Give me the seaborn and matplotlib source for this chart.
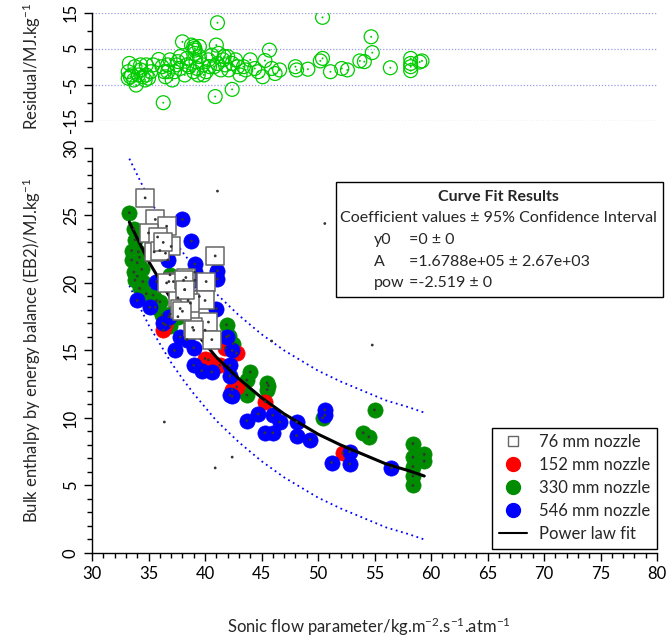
import matplotlib
matplotlib.use("Agg")
import matplotlib.pyplot as plt
import pandas as pd
import seaborn as sns
from matplotlib.lines import Line2D
from matplotlib.patches import Rectangle
from matplotlib.ticker import MultipleLocator

# %% Data

# 76 mm nozzle
x76 = [34.7, 35.6, 36.6, 35.0, 35.8, 35.5, 37.0, 36.0, 40.9, 38.3, 37.2, 40.1, 40.0,
       37.6, 38.5, 37.8, 38.7, 40.3, 38.9, 40.6, 36.6, 38.1, 38.0, 39.0, 36.3, 38.2]
y76 = [26.3, 24.7, 24.2, 23.7, 23.4, 22.3, 22.7, 22.4, 22.0, 20.4, 20.1, 20.1, 18.7,
       18.9, 18.7, 18.1, 18.5, 17.1, 16.7, 15.8, 20.0, 20.2, 17.9, 16.5, 23.0, 19.5]

# 152 mm nozzle
x152 = [36.3, 36.5, 40.0, 40.3, 41.3, 42.8, 42.8, 42.4, 45.3, 52.2, 41.8]
y152 = [16.5, 16.9, 14.4, 14.3, 13.9, 14.8, 12.3, 12.1, 11.2, 7.4, 15.2]

# 330 mm nozzle
x330 = [33.3, 33.7, 33.8, 33.5, 34.1, 33.5, 34.0, 33.7, 34.4, 33.8, 34.5, 34.2, 34.8,
        35.7, 36.9, 36.8, 35.4, 36.0, 35.6, 36.2, 36.9, 36.9, 41.9, 42.1, 42.5, 44.0,
        45.5, 45.5, 43.7, 43.7, 45.6, 50.4, 55.0, 54.0, 54.5, 58.4, 58.4, 58.4, 58.4,
        58.4, 59.4, 59.4, 34.2, 34.0, 37.6]
y330 = [25.2, 24.0, 23.2, 22.4, 22.3, 21.7, 21.5, 20.8, 21.0, 20.2, 20.1, 19.6, 19.2,
        18.7, 20.6, 20.1, 19.1, 18.6, 18.2, 17.6, 17.7, 16.8, 16.9, 16.1, 15.5, 13.4,
        12.6, 12.1, 12.8, 11.7, 12.4, 10.0, 10.6, 8.9, 8.6, 8.1, 7.1, 6.4, 5.7,
        5.0, 7.3, 6.8, 21.9, 20.5, 17.5]

# 546 mm nozzle
x546 = [38.0, 38.8, 39.1, 39.1, 39.1, 41.1, 41.1, 34.0, 35.1, 36.5, 35.7, 36.7, 41.0,
        41.9, 37.3, 37.8, 36.3, 36.8, 38.4, 39.0, 39.0, 39.7, 40.6, 42.2, 42.4, 42.2,
        42.2, 42.4, 44.7, 43.7, 46.0, 46.6, 46.0, 45.3, 48.1, 48.1, 49.3, 50.6, 50.6,
        51.2, 52.8, 52.8, 56.5, 39.5, 38.2, 40.0]
y546 = [24.7, 23.1, 21.4, 20.8, 20.2, 20.9, 20.3, 18.7, 18.2, 22.2, 20.1, 21.7, 18.1,
        16.0, 15.0, 16.0, 17.0, 17.5, 15.8, 15.2, 13.9, 13.5, 13.4, 13.1, 15.0, 13.9,
        11.7, 11.6, 10.3, 9.8, 10.2, 9.7, 8.9, 8.9, 9.7, 8.7, 8.4, 10.6, 10.2,
        6.7, 7.5, 6.6, 6.3, 19.0, 19.5, 16.5]

# stray small dots
x_dot = [41.1, 50.6, 54.8, 45.9, 36.4, 42.4, 40.9]
y_dot = [26.8, 24.4, 15.4, 15.7, 9.7, 7.1, 6.3]

# power law fit and its dotted bands
x_fit = [33.3, 34, 35, 36, 37, 38, 39, 40, 41, 42, 43, 44, 45, 46, 47, 48, 50, 52,
         54, 56, 58, 59.4]
y_fit = [24.5, 23.3, 21.6, 20.2, 18.8, 17.6, 16.5, 15.5, 14.5, 13.7, 12.9, 12.2,
         11.5, 10.9, 10.3, 9.8, 8.8, 8.0, 7.3, 6.6, 6.1, 5.7]
y_upper = [29.2, 28.0, 26.3, 24.9, 23.5, 22.3, 21.2, 20.2, 19.2, 18.4, 17.6, 16.9,
           16.2, 15.6, 15.0, 14.5, 13.5, 12.7, 12.0, 11.3, 10.8, 10.4]
y_lower = [19.8, 18.6, 16.9, 15.5, 14.1, 12.9, 11.8, 10.8, 9.8, 9.0, 8.2, 7.5,
           6.8, 6.2, 5.6, 5.1, 4.1, 3.3, 2.6, 1.9, 1.4, 1.0]

# residuals
x_res = [33.3, 33.8, 34.3, 34.8, 33.2, 33.5, 34.1, 34.5, 33.7, 33.2, 33.9, 34.7, 35.0,
         35.2, 34.3, 33.4, 35.9, 36.2, 36.4, 36.5, 36.7, 36.3, 37.1, 37.3, 37.5, 37.6,
         37.8, 38.0, 38.2, 38.4, 38.6, 38.8, 39.0, 39.1, 39.1, 39.1, 39.2, 39.3, 39.4,
         39.5, 39.8, 40.1, 40.3, 40.4, 40.6, 40.9, 41.0, 41.1, 41.1, 41.2, 41.4, 41.6,
         41.8, 42.0, 42.1, 42.4, 42.4, 42.7, 42.9, 43.1, 43.4, 43.6, 44.0, 44.4, 44.7,
         45.1, 45.3, 45.7, 45.9, 46.2, 46.6, 48.0, 48.1, 49.1, 50.2, 50.4, 50.4, 51.1,
         52.1, 52.6, 53.7, 54.1, 54.7, 54.8, 56.4, 58.2, 58.2, 58.2, 58.2, 59.2, 59.0,
         36.9, 39.5, 39.0, 38.4, 37.8, 36.7, 35.4, 34.8, 40.8, 39.9, 41.7]
y_res = [0.9, 0.0, 0.5, 0.5, -1.4, -2.3, -2.3, -2.8, -3.7, -3.2, -5.1, -3.7, -3.2,
         -1.4, -0.9, -2.8, 2.0, 0.0, -1.4, -2.8, 0.5, -10.0, -3.7, -1.4, 0.5, 1.4,
         -0.5, 6.9, -2.3, 2.3, 0.0, 6.0, -1.4, 5.1, 4.6, 3.7, 1.4, -0.5, -2.3,
         2.8, 0.5, -1.4, 1.9, 0.0, 3.2, -8.3, 6.0, 12.2, 0.9, 3.7, -0.9, 1.9,
         0.5, 2.8, -0.9, -6.3, 0.9, 1.9, 0.0, -2.3, 0.0, -0.9, 1.9, -0.5, -1.4,
         -2.8, 1.7, 4.6, -0.5, -1.9, -0.9, 0.0, -0.9, -0.7, 1.6, 2.3, 13.7, -1.4,
         -0.5, -0.9, 1.6, 1.4, 8.3, 3.9, -0.3, 2.3, 0.9, 0.0, -1.1, 1.6, 1.3,
         1.9, 5.6, 5.6, 0.5, 2.8, -1.4, 0.5, -2.3, 0.0, -2.3, 2.8]

fit_title = "Curve Fit Results"
fit_header = "Coefficient values \u00b1 95% Confidence Interval"
fit_names = ["y0", "A", "pow"]
fit_values = ["=0 \u00b1 0", "=1.6788e+05 \u00b1 2.67e+03", "=-2.519 \u00b1 0"]

# %% Style

sns.set_theme(style="ticks")
plt.rcParams["font.family"] = ["Lato", "DejaVu Sans"]
plt.rcParams["mathtext.fontset"] = "custom"
plt.rcParams["mathtext.rm"] = "Lato"
plt.rcParams["mathtext.default"] = "regular"
plt.rcParams["axes.unicode_minus"] = False
plt.rcParams["axes.edgecolor"] = "black"
plt.rcParams["xtick.color"] = "black"
plt.rcParams["ytick.color"] = "black"

RED, GREEN, BLUE = "#ff0000", "#008c00", "#0000ff"
FS = 12

fig = plt.figure(figsize=(6.67, 6.43), dpi=100)
ax_res = fig.add_axes([0.138, 0.8123, 0.847, 0.168])
ax = fig.add_axes([0.138, 0.140, 0.847, 0.630])

# %% Residual panel

res = pd.DataFrame({"x": x_res, "y": y_res})
for yg in [15, 5, -5, -15]:
    ax_res.axhline(yg, color="#9a9ae6", lw=0.9, ls=(0, (1, 1.5)), zorder=0)
sns.scatterplot(res, x="x", y="y", ax=ax_res, s=100, facecolor="none",
                edgecolor="#00cc00", linewidth=0.9, legend=False)
sns.scatterplot(res, x="x", y="y", ax=ax_res, s=2, color="#00cc00",
                edgecolor="none", legend=False)
ax_res.set(xlim=(30, 80), ylim=(-15, 15), xlabel="", xticks=[])
ax_res.set_ylabel(r"Residual/MJ.kg$^{-1}$", fontsize=FS)
ax_res.yaxis.set_label_coords(-0.087, 0.5)
ax_res.set_yticks([15, 5, -5, -15])
ax_res.yaxis.set_minor_locator(MultipleLocator(5))
for s in ["top", "right", "bottom"]:
    ax_res.spines[s].set_visible(False)

# %% Main panel

ax.plot(x_fit, y_upper, color=BLUE, ls=(0, (1, 2)), lw=1.3, zorder=1)
ax.plot(x_fit, y_lower, color=BLUE, ls=(0, (1, 2)), lw=1.3, zorder=1)

sets = [
    (x330, y330, GREEN),
    (x152, y152, RED),
    (x546, y546, BLUE),
]
for xs, ys, c in sets:
    sns.scatterplot(x=xs, y=ys, ax=ax, s=120, color=c, edgecolor=c,
                    linewidth=0.5, legend=False, zorder=2)

sns.lineplot(x=x_fit, y=y_fit, ax=ax, color="black", lw=2.2, zorder=3)

sns.scatterplot(x=x76, y=y76, ax=ax, marker="s", s=150, color="white",
                edgecolor="#666666", linewidth=1.1, legend=False, zorder=4)

all_x = x76 + x152 + x330 + x546 + x_dot
all_y = y76 + y152 + y330 + y546 + y_dot
sns.scatterplot(x=all_x, y=all_y, ax=ax, s=4, color="#333333",
                edgecolor="none", legend=False, zorder=5)

ax.set(xlim=(30, 80), ylim=(0, 30))
ax.xaxis.set_major_locator(MultipleLocator(5))
ax.xaxis.set_minor_locator(MultipleLocator(1))
ax.yaxis.set_major_locator(MultipleLocator(5))
ax.yaxis.set_minor_locator(MultipleLocator(1))
ax.set_xlabel(r"Sonic flow parameter/kg.m$^{-2}$.s$^{-1}$.atm$^{-1}$", fontsize=FS)
ax.set_ylabel(r"Bulk enthalpy by energy balance (EB2)/MJ.kg$^{-1}$", fontsize=FS)
ax.xaxis.set_label_coords(0.49, -0.155)
ax.yaxis.set_label_coords(-0.087, 0.5)
for s in ["top", "right"]:
    ax.spines[s].set_visible(False)

for a in (ax, ax_res):
    a.tick_params(which="major", length=6, width=1, labelsize=FS, direction="out")
    a.tick_params(which="minor", length=3.5, width=1, direction="out")
    a.tick_params(axis="y", labelrotation=90)
    for t in a.get_yticklabels():
        t.set_verticalalignment("center")
    for sp in a.spines.values():
        sp.set_linewidth(1)

handles = [
    Line2D([], [], ls="", marker="s", ms=7, mfc="white", mec="#666666", mew=1),
    Line2D([], [], ls="", marker="o", ms=10, mfc=RED, mec=RED),
    Line2D([], [], ls="", marker="o", ms=10, mfc=GREEN, mec=GREEN),
    Line2D([], [], ls="", marker="o", ms=10, mfc=BLUE, mec=BLUE),
    Line2D([], [], color="black", lw=1.5),
]
labels = ["76 mm nozzle", "152 mm nozzle", "330 mm nozzle", "546 mm nozzle",
          "Power law fit"]
leg = ax.legend(handles, labels, loc="lower right", bbox_to_anchor=(1.0, 0.01),
                fontsize=FS, frameon=True, fancybox=False, edgecolor="black",
                framealpha=1, borderpad=0.4, labelspacing=0.42, handlelength=1.7,
                handletextpad=0.7, borderaxespad=0.0)
leg.get_frame().set_linewidth(1)

# %% Fit results box

BFS = 11.5
fig.patches.append(Rectangle((0.503, 0.538), 0.491, 0.179, transform=fig.transFigure,
                             fill=False, edgecolor="black", lw=1))
fig.text(0.748, 1 - 197 / 643, fit_title, fontsize=BFS, fontweight="bold",
         ha="center", va="center")
fig.text(0.748, 1 - 218 / 643, fit_header, fontsize=BFS, ha="center", va="center")
for i, (n, v) in enumerate(zip(fit_names, fit_values)):
    yy = 1 - (240 + 21.6 * i) / 643
    fig.text(374 / 667, yy, n, fontsize=BFS, ha="left", va="center")
    fig.text(409 / 667, yy, v, fontsize=BFS, ha="left", va="center")

fig.savefig("out.png", dpi=100)
